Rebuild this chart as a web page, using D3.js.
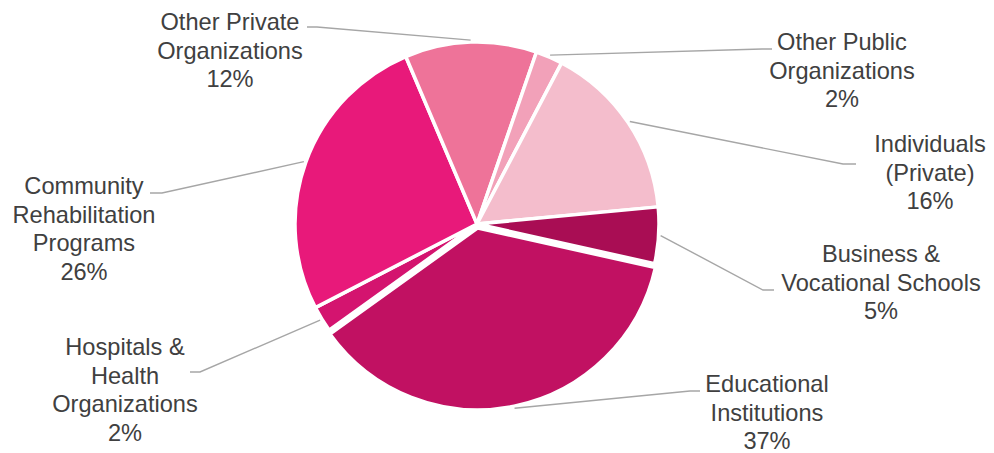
<!DOCTYPE html>
<html><head><meta charset="utf-8">
<script src="https://cdn.jsdelivr.net/npm/d3@7"></script>
<style>html,body{margin:0;padding:0;background:#fff;}svg{display:block;}</style>
</head><body><div id="chart"></div>
<script>
// Data (estimated shares, in drawing order clockwise)
const categories = ["Educational Institutions","Hospitals & Health Organizations","Community Rehabilitation Programs","Other Private Organizations","Other Public Organizations","Individuals (Private)","Business & Vocational Schools"];
const values = [36.6, 2.3, 26.2, 11.7, 2.4, 15.8, 5.0];
const labelLines = [["Educational","Institutions"],["Hospitals &","Health","Organizations"],["Community","Rehabilitation","Programs"],["Other Private","Organizations"],["Other Public","Organizations"],["Individuals","(Private)"],["Business &","Vocational Schools"]];
const colors = ["#C11162","#D4146F","#E8197A","#EE7399","#F2A1B9","#F4BDCC","#A90D54"];

// Layout (label anchor: center x, first baseline; leader elbow & end)
const labelLayout = [
  {x:767, y:392, elbow:[690,391], end:[700,391]},
  {x:125, y:355, elbow:[200,372], end:[190,372]},
  {x:84,  y:194, elbow:[162,193], end:[150,193]},
  {x:230, y:30,  elbow:[317,27],  end:[307,27]},
  {x:842, y:50,  elbow:[762,49],  end:[772,49]},
  {x:930, y:152, elbow:[843,164], end:[856,164]},
  {x:881, y:262, elbow:[763,290], end:[774,290]}
];
const explode = [4,0,0,0,0,0,0];

const W=994,H=453, cx=477, cy=224, R=182, lineH=28.5;
const svg=d3.select("#chart").append("svg").attr("width",W).attr("height",H);

const start = 102.6*Math.PI/180;
const pie=d3.pie().sort(null).startAngle(start).endAngle(start+2*Math.PI);
const arcs=pie(values);
const arc=d3.arc().innerRadius(0).outerRadius(R);

const g=svg.append("g").attr("transform",`translate(${cx},${cy})`);
g.selectAll("path.slice").data(arcs).join("path")
  .attr("class","slice")
  .attr("d",arc)
  .attr("fill",(d,i)=>colors[i])
  .attr("stroke","#fff").attr("stroke-width",3.5).attr("stroke-linejoin","round")
  .attr("transform",(d,i)=>{const a=(d.startAngle+d.endAngle)/2;return `translate(${Math.sin(a)*explode[i]},${-Math.cos(a)*explode[i]})`;});

// leader lines
svg.selectAll("polyline.leader").data(arcs).join("polyline")
  .attr("class","leader")
  .attr("points",(d,i)=>{
    const a=(d.startAngle+d.endAngle)/2, rr=R+2+explode[i];
    const p=[cx+Math.sin(a)*rr, cy-Math.cos(a)*rr];
    const L=labelLayout[i];
    return [p,L.elbow,L.end].map(q=>q.join(",")).join(" ");
  })
  .attr("fill","none").attr("stroke","#A6A6A6").attr("stroke-width",1.4);

// labels
const lbl=svg.selectAll("text.lbl").data(arcs).join("text")
  .attr("class","lbl")
  .attr("text-anchor","middle")
  .attr("font-family","'Liberation Sans', Arial, sans-serif")
  .attr("font-size","23.6px").attr("fill","#404040");
lbl.each(function(d,i){
  const L=labelLayout[i];
  const lines=labelLines[i].concat([Math.round(values[i])+"%"]);
  d3.select(this).selectAll("tspan").data(lines).join("tspan")
    .attr("x",L.x).attr("y",(t,j)=>L.y+j*lineH).text(t=>t);
});
</script></body></html>
